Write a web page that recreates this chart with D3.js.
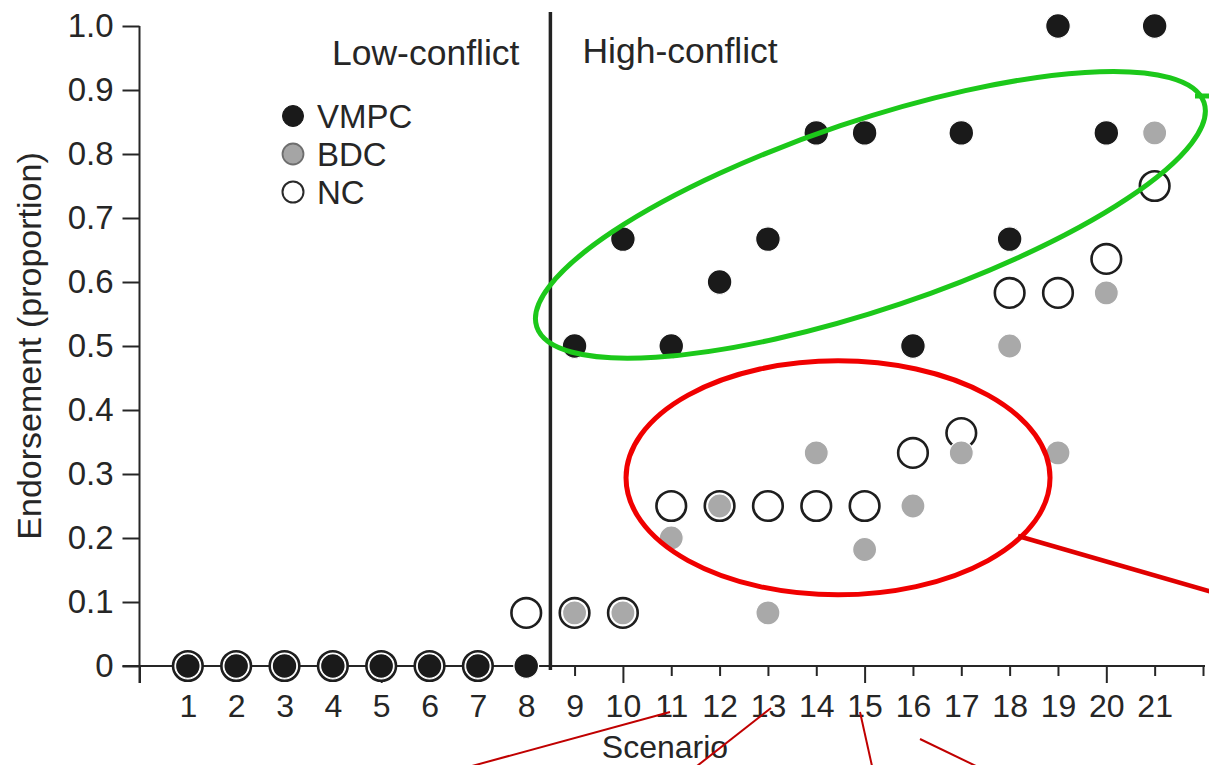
<!DOCTYPE html>
<html>
<head>
<meta charset="utf-8">
<script src="https://cdn.jsdelivr.net/npm/d3@7"></script>
<style>
  html, body { margin: 0; padding: 0; background: #fff; }
  svg { display: block; }
  text { font-family: "Liberation Sans", Arial, Helvetica, sans-serif; fill: #262626; }
</style>
</head>
<body>
<svg id="chart" width="1209" height="765"></svg>
<script>
// ---- data ----
const scenarios = [1,2,3,4,5,6,7,8,9,10,11,12,13,14,15,16,17,18,19,20,21];
const vmpc = [0,0,0,0,0,0,0,0,0.5,0.667,0.5,0.6,0.667,0.833,0.833,0.5,0.833,0.667,1.0,0.833,1.0];
const bdc  = [0,0,0,0,0,0,0,0,0.083,0.083,0.2,0.25,0.083,0.333,0.182,0.25,0.333,0.5,0.333,0.583,0.833];
const nc   = [0,0,0,0,0,0,0,0.083,0.083,0.083,0.25,0.25,0.25,0.25,0.25,0.333,0.364,0.583,0.583,0.636,0.75];
const yTicks = [0,0.1,0.2,0.3,0.4,0.5,0.6,0.7,0.8,0.9,1.0];
const xTicks = d3.range(0, 23);
const seriesNames = ["VMPC","BDC","NC"];
const groupLabels = ["Low-conflict","High-conflict"];
const dividerAt = 8.5;
// annotation overlays (scenario units / proportion units)
const greenEllipse = {cx: 15.12, cy: 0.705, rx: 352, ry: 94, rot: -18.6};
const redEllipse = {cx: 14.45, cy: 0.294, rx: 212, ry: 117};

const svg = d3.select("#chart");
const x = d3.scaleLinear().domain([0, 22]).range([139.5, 1203]);
const y = d3.scaleLinear().domain([0, 1]).range([666, 26]);

// y axis
const yAxis = d3.axisLeft(y).tickValues(yTicks)
  .tickFormat(d => d === 0 ? "0" : d3.format(".1f")(d))
  .tickSize(17).tickSizeOuter(0).tickPadding(9);
const gy = svg.append("g").attr("transform", `translate(${x(0)},0)`).call(yAxis);
gy.select(".domain").remove();
gy.selectAll(".tick line").attr("stroke", "#262626").attr("stroke-width", 2);
gy.selectAll(".tick text").attr("font-size", 33).attr("fill", "#262626");
svg.append("line").attr("x1", x(0)).attr("x2", x(0)).attr("y1", y(1)).attr("y2", y(0) + 17)
  .attr("stroke", "#262626").attr("stroke-width", 2);

// x axis
const xAxis = d3.axisBottom(x).tickValues(xTicks)
  .tickFormat(d => (d >= 1 && d <= 21) ? d : "")
  .tickSize(10).tickSizeOuter(0).tickPadding(18);
const gx = svg.append("g").attr("transform", `translate(0,${y(0)})`).call(xAxis);
gx.select(".domain").remove();
gx.selectAll(".tick line").attr("stroke", "#262626").attr("stroke-width", 2)
  .attr("y2", d => d % 5 === 0 ? 17 : 10);
gx.selectAll(".tick text").attr("font-size", 32).attr("fill", "#262626");
svg.append("line").attr("x1", x(0) - 17).attr("x2", x(22) + 2).attr("y1", y(0)).attr("y2", y(0))
  .attr("stroke", "#262626").attr("stroke-width", 2);

// axis titles
svg.append("text").attr("x", 665).attr("y", 758).attr("text-anchor", "middle")
  .attr("font-size", 32).text("Scenario");
svg.append("text").attr("transform", `translate(41,${y(0.5)}) rotate(-90)`)
  .attr("text-anchor", "middle").attr("font-size", 34).text("Endorsement (proportion)");

// divider
svg.append("line").attr("x1", x(dividerAt)).attr("x2", x(dividerAt))
  .attr("y1", 12).attr("y2", y(0) + 4).attr("stroke", "#222").attr("stroke-width", 3.5);
svg.append("text").attr("x", x(dividerAt) - 31).attr("y", 65).attr("text-anchor", "end")
  .attr("font-size", 35.5).text(groupLabels[0]);
svg.append("text").attr("x", x(dividerAt) + 32).attr("y", 63).attr("text-anchor", "start")
  .attr("font-size", 35.5).text(groupLabels[1]);

// points
const data = scenarios.map((s, i) => ({s, v: vmpc[i], b: bdc[i], n: nc[i]}));
svg.append("g").selectAll("circle").data(data).join("circle")
  .attr("cx", d => x(d.s)).attr("cy", d => y(d.n)).attr("r", 14.8)
  .attr("fill", "#fff").attr("stroke", "#1e1e1e").attr("stroke-width", 2.6);
svg.append("g").selectAll("circle").data(data).join("circle")
  .attr("cx", d => x(d.s)).attr("cy", d => y(d.b)).attr("r", 12)
  .attr("fill", "#a9a9a9").attr("stroke", "#fff").attr("stroke-width", 1.2);
svg.append("g").selectAll("circle").data(data).join("circle")
  .attr("cx", d => x(d.s)).attr("cy", d => y(d.v)).attr("r", 12.3)
  .attr("fill", "#1a1a1a").attr("stroke", "#fff").attr("stroke-width", 1.2);

// legend
const legendStyles = [
  {fill: "#1a1a1a", stroke: "#1a1a1a", sw: 1},
  {fill: "#a5a5a5", stroke: "#6e6e6e", sw: 1.8},
  {fill: "#fff", stroke: "#2a2a2a", sw: 2}
];
const leg = svg.append("g");
seriesNames.forEach((name, i) => {
  const cy = 116 + i * 38;
  leg.append("circle").attr("cx", 293).attr("cy", cy).attr("r", 10.5)
    .attr("fill", legendStyles[i].fill).attr("stroke", legendStyles[i].stroke)
    .attr("stroke-width", legendStyles[i].sw);
  leg.append("text").attr("x", 317).attr("y", cy + 12).attr("font-size", 33).text(name);
});

// annotation overlays
svg.append("ellipse")
  .attr("transform", `translate(${x(greenEllipse.cx)},${y(greenEllipse.cy)}) rotate(${greenEllipse.rot})`)
  .attr("rx", greenEllipse.rx).attr("ry", greenEllipse.ry)
  .attr("fill", "none").attr("stroke", "#1cc81a").attr("stroke-width", 5);
svg.append("line").attr("x1", 1195).attr("x2", 1209).attr("y1", 96).attr("y2", 96)
  .attr("stroke", "#1cc81a").attr("stroke-width", 5);
svg.append("ellipse").attr("cx", x(redEllipse.cx)).attr("cy", y(redEllipse.cy))
  .attr("rx", redEllipse.rx).attr("ry", redEllipse.ry)
  .attr("fill", "none").attr("stroke", "#f00000").attr("stroke-width", 5);
svg.append("line").attr("x1", 1018).attr("y1", 536).attr("x2", 1212).attr("y2", 592)
  .attr("stroke", "#e00000").attr("stroke-width", 4.5);
const thin = [[472,766,670,712],[697,766,771,708],[860,712,872,766],[920,739,976,766]];
svg.append("g").selectAll("line").data(thin).join("line")
  .attr("x1", d => d[0]).attr("y1", d => d[1]).attr("x2", d => d[2]).attr("y2", d => d[3])
  .attr("stroke", "#c00000").attr("stroke-width", 2);
</script>
</body>
</html>
